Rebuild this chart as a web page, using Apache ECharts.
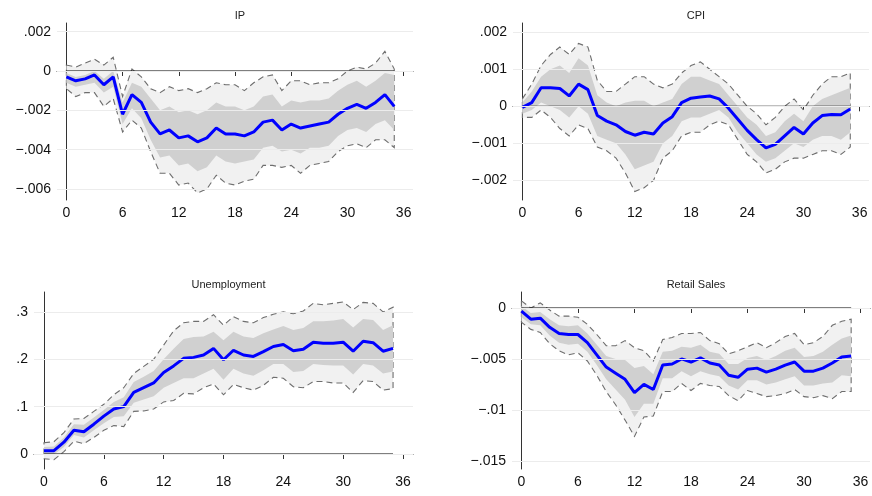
<!DOCTYPE html>
<html>
<head>
<meta charset="UTF-8">
<script src="https://cdn.jsdelivr.net/npm/echarts@6/dist/echarts.min.js"></script>
</head>
<body style="margin:0;background:#fff">
<div id="main" style="width:872px;height:496px"></div>
<script>
var horizon = [];
for (var h = 0; h <= 35; h++) horizon.push(h);

// IP
var ipMid = [-0.0003,-0.0005,-0.0004,-0.0002,-0.0007,-0.0003,-0.0022,-0.0012,-0.0016,-0.0026,-0.0032,-0.0030,-0.0034,-0.0033,-0.0036,-0.0034,-0.0029,-0.0032,-0.0032,-0.0033,-0.0031,-0.0026,-0.0025,-0.0030,-0.0027,-0.0029,-0.0028,-0.0027,-0.0026,-0.0022,-0.0019,-0.0017,-0.0019,-0.0016,-0.0012,-0.0018];
var ipHi90 = [0.0003,0.0002,0.0004,0.0006,0.0003,0.0007,-0.0013,0.0001,-0.0003,-0.0009,-0.0011,-0.0008,-0.0010,-0.0009,-0.0011,-0.0009,-0.0006,-0.0007,-0.0007,-0.0010,-0.0006,-0.0003,-0.0002,-0.0010,-0.0005,-0.0005,-0.0007,-0.0006,-0.0006,-0.0004,0.0000,0.0002,0.0001,0.0004,0.0010,0.0001];
var ipLo90 = [-0.0009,-0.0013,-0.0011,-0.0011,-0.0018,-0.0014,-0.0031,-0.0025,-0.0029,-0.0041,-0.0052,-0.0052,-0.0058,-0.0057,-0.0062,-0.0060,-0.0053,-0.0057,-0.0058,-0.0056,-0.0055,-0.0048,-0.0048,-0.0049,-0.0048,-0.0052,-0.0048,-0.0047,-0.0046,-0.0041,-0.0038,-0.0037,-0.0039,-0.0035,-0.0035,-0.0039];
var ipHi68 = [-0.0001,-0.0003,-0.0002,0.0000,-0.0004,0.0000,-0.0016,-0.0006,-0.0008,-0.0014,-0.0020,-0.0018,-0.0021,-0.0020,-0.0022,-0.0020,-0.0016,-0.0018,-0.0018,-0.0020,-0.0018,-0.0013,-0.0012,-0.0018,-0.0015,-0.0016,-0.0015,-0.0015,-0.0014,-0.0010,-0.0007,-0.0005,-0.0008,-0.0005,-0.0001,-0.0002];
var ipLo68 = [-0.0006,-0.0008,-0.0007,-0.0006,-0.0011,-0.0008,-0.0027,-0.0019,-0.0024,-0.0035,-0.0044,-0.0043,-0.0048,-0.0047,-0.0051,-0.0049,-0.0043,-0.0046,-0.0047,-0.0046,-0.0045,-0.0039,-0.0038,-0.0041,-0.0040,-0.0042,-0.0039,-0.0039,-0.0038,-0.0033,-0.0030,-0.0029,-0.0031,-0.0027,-0.0025,-0.0030];

// CPI
var cpiMid = [-0.00003,0.0001,0.0005,0.0005,0.00048,0.00028,0.0006,0.00045,-0.00025,-0.0004,-0.0005,-0.00068,-0.00078,-0.0007,-0.00075,-0.00045,-0.00028,0.0001,0.00022,0.00025,0.00028,0.0002,-0.00005,-0.00035,-0.00065,-0.0009,-0.00112,-0.00103,-0.0008,-0.00057,-0.00075,-0.00045,-0.00025,-0.00022,-0.00023,-0.00007];
var cpiHi90 = [0.0002,0.0006,0.0011,0.0014,0.0016,0.0014,0.0017,0.0016,0.0007,0.0004,0.0004,0.0006,0.0008,0.0008,0.0006,0.0005,0.0006,0.0009,0.0011,0.0012,0.0010,0.0008,0.0006,0.0003,0.0000,-0.0002,-0.0005,-0.0003,0.0000,0.0002,-0.0001,0.0003,0.0006,0.0008,0.0008,0.0009];
var cpiLo90 = [-0.0003,-0.0003,-0.0001,-0.0003,-0.0006,-0.0008,-0.0005,-0.0006,-0.0011,-0.0012,-0.0014,-0.0018,-0.0023,-0.0022,-0.0020,-0.0014,-0.0012,-0.0008,-0.0007,-0.0007,-0.0005,-0.0004,-0.0005,-0.0009,-0.0013,-0.0015,-0.0018,-0.0017,-0.0015,-0.0014,-0.0014,-0.0013,-0.0012,-0.0012,-0.0013,-0.0011];
var cpiHi68 = [0.0001,0.0004,0.0008,0.0010,0.0011,0.0009,0.0013,0.0011,0.0003,0.0001,0.0000,0.0001,0.00015,0.00015,0.0000,0.0001,0.0002,0.0006,0.0008,0.0008,0.0007,0.0006,0.0003,0.0000,-0.0003,-0.0005,-0.0008,-0.0007,-0.0004,-0.0002,-0.0004,0.0000,0.0002,0.0003,0.0004,0.0005];
var cpiLo68 = [-0.0002,-0.0001,0.0001,0.0000,-0.0001,-0.0003,0.0000,-0.0002,-0.0008,-0.0009,-0.0010,-0.0013,-0.0017,-0.0016,-0.0015,-0.0010,-0.0008,-0.0004,-0.0003,-0.0003,-0.0002,-0.0001,-0.0003,-0.0007,-0.0010,-0.0013,-0.0015,-0.0014,-0.0012,-0.0010,-0.0011,-0.0009,-0.0008,-0.0008,-0.0009,-0.0007];

// Unemployment
var unMid = [0.007,0.007,0.025,0.05,0.047,0.063,0.08,0.095,0.1,0.13,0.14,0.15,0.172,0.186,0.202,0.204,0.209,0.223,0.199,0.219,0.209,0.206,0.216,0.227,0.231,0.218,0.221,0.236,0.234,0.234,0.236,0.217,0.238,0.235,0.217,0.223];
var unHi90 = [0.024,0.026,0.045,0.074,0.075,0.09,0.105,0.125,0.14,0.17,0.185,0.2,0.23,0.26,0.277,0.28,0.28,0.294,0.272,0.29,0.28,0.277,0.288,0.295,0.3,0.296,0.302,0.318,0.315,0.318,0.321,0.305,0.32,0.318,0.3,0.31];
var unLo90 = [-0.01,-0.012,0.005,0.027,0.022,0.035,0.05,0.06,0.058,0.09,0.091,0.095,0.11,0.113,0.128,0.127,0.14,0.148,0.125,0.147,0.14,0.135,0.145,0.162,0.16,0.142,0.14,0.153,0.153,0.15,0.15,0.13,0.155,0.153,0.135,0.138];
var unHi68 = [0.015,0.016,0.035,0.063,0.062,0.077,0.093,0.11,0.12,0.152,0.163,0.175,0.2,0.222,0.243,0.247,0.248,0.258,0.24,0.258,0.248,0.245,0.255,0.263,0.27,0.262,0.266,0.28,0.28,0.282,0.285,0.267,0.285,0.283,0.262,0.272];
var unLo68 = [0,-0.001,0.015,0.04,0.035,0.05,0.065,0.078,0.08,0.108,0.115,0.122,0.14,0.15,0.16,0.16,0.17,0.18,0.157,0.18,0.17,0.165,0.177,0.19,0.19,0.173,0.175,0.19,0.188,0.187,0.187,0.168,0.19,0.187,0.17,0.174];

// Retail Sales
var rsMid = [-0.0003,-0.0011,-0.0010,-0.0019,-0.0025,-0.0026,-0.0026,-0.0034,-0.0046,-0.0058,-0.0064,-0.0070,-0.0083,-0.0075,-0.0080,-0.0056,-0.0055,-0.0050,-0.0053,-0.0049,-0.0054,-0.0056,-0.0066,-0.0068,-0.0060,-0.0059,-0.0063,-0.0060,-0.0056,-0.0053,-0.0062,-0.0062,-0.0059,-0.0054,-0.0048,-0.0047];
var rsHi90 = [0.0007,0.0000,0.0005,-0.0002,-0.0008,-0.0008,-0.0009,-0.0016,-0.0026,-0.0037,-0.0037,-0.0032,-0.0039,-0.0042,-0.0052,-0.0031,-0.0029,-0.0025,-0.0025,-0.0024,-0.0032,-0.0035,-0.0045,-0.0042,-0.0038,-0.0034,-0.0039,-0.0034,-0.0028,-0.0025,-0.0036,-0.0034,-0.0028,-0.0017,-0.0013,-0.0011];
var rsLo90 = [-0.0014,-0.0021,-0.0024,-0.0035,-0.0042,-0.0046,-0.0044,-0.0052,-0.0066,-0.0082,-0.0095,-0.0110,-0.0126,-0.0107,-0.0106,-0.0082,-0.0082,-0.0074,-0.0081,-0.0074,-0.0076,-0.0077,-0.0086,-0.0091,-0.0081,-0.0084,-0.0087,-0.0086,-0.0084,-0.0080,-0.0087,-0.0088,-0.0086,-0.0089,-0.0082,-0.0082];
var rsHi68 = [0.0002,-0.0005,-0.0004,-0.0011,-0.0017,-0.0018,-0.0017,-0.0025,-0.0036,-0.0047,-0.0050,-0.0051,-0.0059,-0.0057,-0.0065,-0.0043,-0.0042,-0.0038,-0.0039,-0.0036,-0.0043,-0.0045,-0.0055,-0.0055,-0.0049,-0.0047,-0.0051,-0.0047,-0.0042,-0.0039,-0.0048,-0.0047,-0.0043,-0.0036,-0.0030,-0.0027];
var rsLo68 = [-0.0009,-0.0016,-0.0017,-0.0027,-0.0034,-0.0036,-0.0035,-0.0043,-0.0056,-0.0070,-0.0080,-0.0090,-0.0107,-0.0094,-0.0094,-0.0069,-0.0069,-0.0062,-0.0067,-0.0062,-0.0065,-0.0067,-0.0076,-0.0080,-0.0071,-0.0071,-0.0075,-0.0073,-0.0070,-0.0067,-0.0076,-0.0076,-0.0074,-0.0073,-0.0066,-0.0067];

var xTicks = [0, 6, 12, 18, 24, 30, 36];
var ipTicks = [-0.006, -0.004, -0.002, 0, 0.002];
var cpiTicks = [-0.002, -0.001, 0, 0.001, 0.002];
var unTicks = [0, 0.1, 0.2, 0.3];
var rsTicks = [-0.015, -0.01, -0.005, 0];

var panels = [
  {title: 'IP', mid: ipMid, hi90: ipHi90, lo90: ipLo90, hi68: ipHi68, lo68: ipLo68, ticks: ipTicks,
   ymin: -0.00656, ymax: 0.00244, grid: {left: 57, right: 459, top: 23, bottom: 296}},
  {title: 'CPI', mid: cpiMid, hi90: cpiHi90, lo90: cpiLo90, hi68: cpiHi68, lo68: cpiLo68, ticks: cpiTicks,
   ymin: -0.00253, ymax: 0.00225, grid: {left: 513, right: 3, top: 23, bottom: 296}},
  {title: 'Unemployment', mid: unMid, hi90: unHi90, lo90: unLo90, hi68: unHi68, lo68: unLo68, ticks: unTicks,
   ymin: -0.0316, ymax: 0.342, grid: {left: 34, right: 459, top: 292, bottom: 27}},
  {title: 'Retail Sales', mid: rsMid, hi90: rsHi90, lo90: rsLo90, hi68: rsHi68, lo68: rsLo68, ticks: rsTicks,
   ymin: -0.0158, ymax: 0.00157, grid: {left: 512, right: 2, top: 292, bottom: 27}}
];

function fmt(v) {
  if (v === 0) return '0';
  var s = String(Math.abs(+v.toPrecision(6))).replace(/^0/, '');
  return (v < 0 ? '\u2212' : '') + s;
}

function band(lo, hi, fill, stroke) {
  return function (params, api) {
    if (params.dataIndex !== 0) return;
    var pts = [];
    for (var i = 0; i < hi.length; i++) pts.push(api.coord([horizon[i], hi[i]]));
    for (var j = lo.length - 1; j >= 0; j--) pts.push(api.coord([horizon[j], lo[j]]));
    return {
      type: 'polygon',
      shape: {points: pts},
      style: {fill: fill, stroke: stroke || null, lineWidth: 1.1, lineDash: stroke ? [6, 4] : null}
    };
  };
}

var option = {animation: false, title: [], grid: [], xAxis: [], yAxis: [], series: []};

panels.forEach(function (p, k) {
  var g = p.grid;
  option.grid.push({left: g.left, right: g.right, top: g.top, bottom: g.bottom});
  option.title.push({
    text: p.title,
    left: g.left + (872 - g.left - g.right) / 2, textAlign: 'center',
    top: g.top - 18,
    textStyle: {fontSize: 11, fontWeight: 'normal', color: '#222', fontFamily: 'Liberation Sans'}
  });
  option.xAxis.push({
    type: 'value', gridIndex: k, min: -1, max: 37,
    axisLine: {lineStyle: {color: '#333'}},
    axisTick: {show: true, customValues: xTicks, length: 5, lineStyle: {color: '#333'}},
    axisLabel: {customValues: xTicks, color: '#111', fontSize: 14, margin: 6, fontFamily: 'Liberation Sans'},
    splitLine: {show: false}
  });
  option.yAxis.push({
    type: 'value', gridIndex: k, min: p.ymin, max: p.ymax,
    axisLine: {show: true, lineStyle: {color: '#333'}},
    axisTick: {show: true, customValues: p.ticks, length: 5, lineStyle: {color: '#333'}},
    axisLabel: {customValues: p.ticks, color: '#111', fontSize: 14, margin: 6, fontFamily: 'Liberation Sans', formatter: fmt},
    splitLine: {show: false}
  });
  var gridLines = p.ticks.map(function (t) {
    return [{coord: [-1, t]}, {coord: [37, t]}];
  });
  option.series.push({
    type: 'custom', xAxisIndex: k, yAxisIndex: k, data: [[0, 0]], silent: true,
    renderItem: band(p.lo90, p.hi90, '#f1f1f1', '#6e6e6e'),
    markLine: {silent: true, symbol: 'none', label: {show: false}, lineStyle: {color: '#ececec', width: 1, type: 'solid'}, data: gridLines},
    z: 1
  });
  option.series.push({
    type: 'custom', xAxisIndex: k, yAxisIndex: k, data: [[0, 0]], silent: true,
    renderItem: band(p.lo68, p.hi68, '#d0d0d0'), z: 2
  });
  option.series.push({
    type: 'line', xAxisIndex: k, yAxisIndex: k, silent: true, z: 3,
    data: [[0, 0], [35, 0]], symbol: 'none', lineStyle: {color: '#000', width: 1.2}
  });
  option.series.push({
    type: 'line', xAxisIndex: k, yAxisIndex: k, silent: true, z: 4,
    data: horizon.map(function (h, i) { return [h, p.mid[i]]; }),
    symbol: 'none', lineStyle: {color: '#0000ff', width: 3}
  });
});

echarts.init(document.getElementById('main')).setOption(option);
</script>
</body>
</html>
